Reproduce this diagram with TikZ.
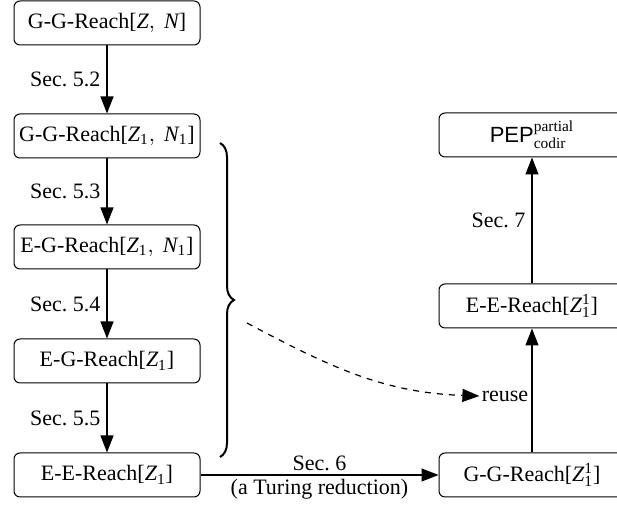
\documentclass[tikz,border=0pt]{standalone}
\usepackage{amsmath}
\usepackage{fontspec}
\setmainfont{Liberation Serif}
\newfontfamily\pepfont{Liberation Sans}
\usetikzlibrary{arrows.meta,decorations.pathreplacing}
\newcommand{\Zi}{\text{\itshape Z}}
\newcommand{\Ni}{\text{\itshape N}}
\frenchspacing
\begin{document}
\begin{tikzpicture}[x=0.5pt,y=-0.5pt,
  font=\fontsize{11}{13}\selectfont,
  box/.style={draw,rounded corners=3pt,line width=0.5pt,minimum width=93pt,minimum height=22pt,inner sep=0pt},
  arr/.style={line width=0.6pt,-{Triangle[length=8.5pt,width=6.5pt]}},
  lbl/.style={inner sep=3pt}]
\useasboundingbox (0,0) rectangle (617,506);
\clip (0,0) rectangle (617,506);
\node[box] (a) at (107,23) {G-G-Reach[$\Zi,\ \Ni$]};
\node[box] (b) at (107,136) {G-G-Reach[$\Zi_{\text{1}},\ \Ni_{\text{1}}$]};
\node[box] (c) at (107,247) {E-G-Reach[$\Zi_{\text{1}},\ \Ni_{\text{1}}$]};
\node[box] (d) at (107,361) {E-G-Reach[$\Zi_{\text{1}}$]};
\node[box] (e) at (107,475) {E-E-Reach[$\Zi_{\text{1}}$]};
\node[box] (f) at (532,475) {G-G-Reach[$\Zi^{\text{1}}_{\text{1}}$]};
\node[box] (g) at (532,306) {E-E-Reach[$\Zi^{\text{1}}_{\text{1}}$]};
\node[box] (h) at (532,135) {$\text{\pepfont PEP}^{\text{partial}}_{\text{codir}}$};
\draw[arr] (a) -- node[left,lbl] {Sec. 5.2} (b);
\draw[arr] (b) -- node[left,lbl] {Sec. 5.3} (c);
\draw[arr] (c) -- node[left,lbl] {Sec. 5.4} (d);
\draw[arr] (d) -- node[left,lbl] {Sec. 5.5} (e);
\draw[arr] (e) -- node[above,inner sep=2pt] {Sec. 6} node[below,inner sep=2pt] {(a Turing reduction)} (f);
\draw[arr] (f) -- (g);
\draw[arr] (g) -- node[left,lbl] {Sec. 7} (h);
\node[inner sep=1pt] (r) at (505,396) {reuse};
\coordinate (bt) at (220,143);
\coordinate (bb) at (220,457);
\draw[line width=1pt,decorate,decoration={brace,amplitude=7pt}] (bt) -- (bb);
\coordinate (ds) at (247,323);
\draw[line width=0.6pt,dash pattern=on 3pt off 3pt,-{Triangle[length=8.5pt,width=6.5pt]}] (ds) to[out=-28,in=178] (r.west);
\end{tikzpicture}
\end{document}
